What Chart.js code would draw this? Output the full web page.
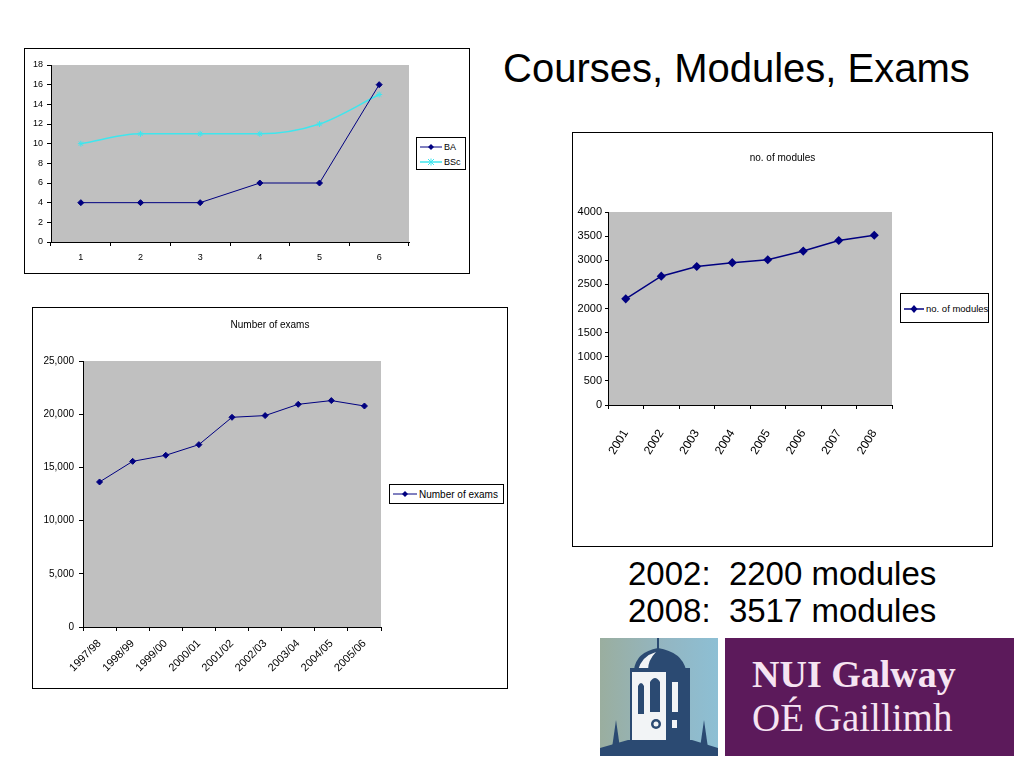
<!DOCTYPE html>
<html>
<head>
<meta charset="utf-8">
<title>Courses, Modules, Exams</title>
<script src="https://cdn.jsdelivr.net/npm/chart.js@4.4.1/dist/chart.umd.min.js"></script>
<style>
  body { margin: 0; background: #fff; font-family: "Liberation Sans", Arial, sans-serif; }
  #page { position: relative; width: 1024px; height: 768px; overflow: hidden; }
  .frame { position: absolute; border: 1px solid #000; box-sizing: border-box; background: #fff; }
  .frame canvas { position: absolute; left: 0; top: 0; }
  .abs { position: absolute; white-space: pre; color: #000; }
  .legend { position: absolute; border: 1px solid #000; box-sizing: border-box; background: #fff; }
  .legend .item { position: absolute; display: flex; align-items: center; white-space: nowrap; }
  .legend svg { display: block; margin-right: 2px; }
</style>
</head>
<body>
<div id="page">

  <div class="abs" style="left:503px; top:46px; font-size:40px; line-height:44px;">Courses, Modules, Exams</div>

  <!-- cursos BA / BSc -->
  <div class="frame" style="left:24px; top:48px; width:446px; height:226px;">
    <canvas id="graficoCursos" width="444" height="224"></canvas>
  </div>
  <div class="legend" style="left:416px; top:137px; width:50px; height:33px; font-size:9px;">
    <div class="item" style="left:3px; top:3px; height:12px;">
      <svg width="22" height="8"><line x1="0" y1="4" x2="22" y2="4" stroke="#000080" stroke-width="1"/><polygon points="11,1 14,4 11,7 8,4" fill="#000080"/></svg>BA
    </div>
    <div class="item" style="left:3px; top:18px; height:12px;">
      <svg width="22" height="8"><line x1="0" y1="4" x2="22" y2="4" stroke="#3ee6ee" stroke-width="1.5"/><path d="M8,1 L14,7 M14,1 L8,7 M11,0.5 L11,7.5" stroke="#3ee6ee" stroke-width="1"/></svg>BSc
    </div>
  </div>

  <!-- modulos -->
  <div class="frame" style="left:572px; top:132px; width:421px; height:415px;">
    <canvas id="graficoModulos" width="419" height="413"></canvas>
  </div>
  <div class="abs" style="left:573px; top:151px; width:419px; text-align:center; font-size:10px; line-height:14px;">no. of modules</div>
  <div class="legend" style="left:900px; top:293px; width:89px; height:30px; font-size:9.5px;">
    <div class="item" style="left:3px; top:7px; height:15px;">
      <svg width="20" height="10"><line x1="0" y1="5" x2="20" y2="5" stroke="#000080" stroke-width="1.5"/><polygon points="10,1 13.5,5 10,9 6.5,5" fill="#000080"/></svg>no. of modules
    </div>
  </div>

  <!-- examenes -->
  <div class="frame" style="left:32px; top:307px; width:476px; height:382px;">
    <canvas id="graficoExamenes" width="474" height="380"></canvas>
  </div>
  <div class="abs" style="left:33px; top:318px; width:474px; text-align:center; font-size:10px; line-height:14px;">Number of exams</div>
  <div class="legend" style="left:389px; top:484px; width:115px; height:20px; font-size:10px;">
    <div class="item" style="left:3px; top:3px; height:12px;">
      <svg width="24" height="8"><line x1="0" y1="4" x2="24" y2="4" stroke="#000080" stroke-width="1"/><polygon points="12,1 15,4 12,7 9,4" fill="#000080"/></svg>Number of exams
    </div>
  </div>

  <div class="abs" style="left:628px; top:555px; font-size:33px; line-height:37px;">2002:  2200 modules
2008:  3517 modules</div>

  <!-- logo -->
  <svg class="abs" style="left:598px; top:636px;" width="418" height="122">
    <defs>
      <linearGradient id="cielo" x1="0" y1="0" x2="1" y2="0">
        <stop offset="0" stop-color="#9aae9f"/>
        <stop offset="0.55" stop-color="#93b6c2"/>
        <stop offset="1" stop-color="#8dbfd4"/>
      </linearGradient>
    </defs>
    <rect x="2" y="2" width="118" height="118" fill="url(#cielo)"/>
    <line x1="60" y1="2" x2="60" y2="14" stroke="#2b4a72" stroke-width="2"/>
    <path d="M36,34 Q38,16 60,12 Q84,16 88,34 Z" fill="#2b4a72"/>
    <path d="M40,34 Q44,20 58,16 Q50,24 50,34 Z" fill="#f2f4f6"/>
    <rect x="32" y="32" width="60" height="82" fill="#2b4a72"/>
    <rect x="34" y="36" width="34" height="76" fill="#f2f4f6"/>
    <path d="M40,78 L40,50 Q43,44 46,50 L46,78 Z" fill="#2b4a72"/>
    <path d="M52,76 L52,46 Q57,38 62,46 L62,76 Z" fill="#2b4a72"/>
    <circle cx="58" cy="88" r="5" fill="#2b4a72"/>
    <circle cx="58" cy="88" r="2.5" fill="#f2f4f6"/>
    <rect x="74" y="46" width="6" height="30" fill="#f2f4f6"/>
    <rect x="74" y="84" width="5" height="8" fill="#f2f4f6"/>
    <polygon points="18,84 14,112 22,112" fill="#2b4a72"/>
    <polygon points="106,84 102,112 110,112" fill="#2b4a72"/>
    <path d="M2,112 L30,104 L94,104 L120,112 L120,120 L2,120 Z" fill="#2b4a72"/>
    <rect x="127" y="2" width="289" height="118" fill="#5c1a5b"/>
  </svg>
  <div class="abs" style="left:752px; top:652px; font-family:'Liberation Serif','DejaVu Serif',serif; font-size:38px; line-height:44px; color:#f6e4f2; font-weight:bold;">NUI Galway</div>
  <div class="abs" style="left:752px; top:696px; font-family:'Liberation Serif','DejaVu Serif',serif; font-size:39px; line-height:44px; color:#f6e4f2;">OÉ Gaillimh</div>

</div>

<script>
// Datos de los gráficos
var cursosEtiquetas = ['1', '2', '3', '4', '5', '6'];
var cursosBA = [4, 4, 4, 6, 6, 16];
var cursosBSc = [10, 11, 11, 11, 12, 15];

var modulosAnios = ['2001', '2002', '2003', '2004', '2005', '2006', '2007', '2008'];
var modulosTotal = [2200, 2670, 2870, 2950, 3010, 3190, 3410, 3517];

var examenesAnios = ['1997/98', '1998/99', '1999/00', '2000/01', '2001/02', '2002/03', '2003/04', '2004/05', '2005/06'];
var examenesTotal = [13630, 15570, 16140, 17140, 19710, 19870, 20930, 21280, 20770];

var fuente = '"Liberation Sans", Arial, sans-serif';

/* Fondo gris del área del gráfico */
var fondoGris = {
  id: 'fondoGris',
  beforeDraw: function(chart) {
    var a = chart.chartArea;
    var c = chart.ctx;
    c.save();
    c.fillStyle = '#c0c0c0';
    c.fillRect(a.left, a.top, a.right - a.left, a.bottom - a.top);
    c.restore();
  }
};

function ejeX(alto, rotacion, tam, relleno) {
  return {
    type: 'category',
    offset: true,
    grid: { display: true, offset: true, drawOnChartArea: false, color: '#000', tickLength: 4 },
    border: { display: true, color: '#000' },
    ticks: { color: '#000', autoSkip: false, minRotation: rotacion, maxRotation: rotacion, padding: relleno, font: { family: fuente, size: tam } },
    afterFit: function(s) { s.height = alto; }
  };
}

function ejeY(ancho, max, paso, tam, largo, relleno, formato) {
  return {
    min: 0,
    max: max,
    grid: { display: true, drawOnChartArea: false, color: '#000', tickLength: largo },
    border: { display: true, color: '#000' },
    ticks: { stepSize: paso, color: '#000', padding: relleno, font: { family: fuente, size: tam }, callback: formato },
    afterFit: function(s) { s.width = ancho; }
  };
}

var opcionesBase = {
  responsive: false,
  animation: false,
  plugins: { legend: { display: false }, title: { display: false }, tooltip: { enabled: false } }
};

function opciones(relleno, x, y) {
  return Object.assign({}, opcionesBase, { layout: { padding: relleno }, scales: { x: x, y: y } });
}

var sinFormato = function(v) { return v; };
var conComas = function(v) { return v.toLocaleString('en-US'); };

new Chart(document.getElementById('graficoCursos'), {
  type: 'line',
  data: {
    labels: cursosEtiquetas,
    datasets: [{
      label: 'BA',
      data: cursosBA,
      borderColor: '#000080',
      backgroundColor: '#000080',
      borderWidth: 1,
      pointStyle: 'rectRot',
      pointRadius: 3,
      tension: 0
    }, {
      label: 'BSc',
      data: cursosBSc,
      borderColor: '#3ee6ee',
      backgroundColor: '#3ee6ee',
      borderWidth: 1.5,
      pointStyle: 'star',
      pointRadius: 3,
      pointBorderWidth: 1,
      cubicInterpolationMode: 'monotone'
    }]
  },
  options: opciones({ left: 0, top: 16, right: 60, bottom: 0 },
    ejeX(31, 0, 9, 6),
    ejeY(26, 18, 2, 9, 4, 4, sinFormato)),
  plugins: [fondoGris]
});

new Chart(document.getElementById('graficoModulos'), {
  type: 'line',
  data: {
    labels: modulosAnios,
    datasets: [{
      label: 'no. of modules',
      data: modulosTotal,
      borderColor: '#000080',
      backgroundColor: '#000080',
      borderWidth: 1.5,
      pointStyle: 'rectRot',
      pointRadius: 3.5,
      tension: 0
    }]
  },
  options: opciones({ left: 0, top: 79, right: 100, bottom: 0 },
    ejeX(141, 58, 12, 18),
    ejeY(35, 4000, 500, 11, 3, 3, sinFormato)),
  plugins: [fondoGris]
});

new Chart(document.getElementById('graficoExamenes'), {
  type: 'line',
  data: {
    labels: examenesAnios,
    datasets: [{
      label: 'Number of exams',
      data: examenesTotal,
      borderColor: '#000080',
      backgroundColor: '#000080',
      borderWidth: 1,
      pointStyle: 'rectRot',
      pointRadius: 3,
      tension: 0
    }]
  },
  options: opciones({ left: 0, top: 53, right: 126, bottom: 0 },
    ejeX(61, 45, 11, 6),
    ejeY(50, 25000, 5000, 10, 4, 5, conComas)),
  plugins: [fondoGris]
});
</script>
</body>
</html>
